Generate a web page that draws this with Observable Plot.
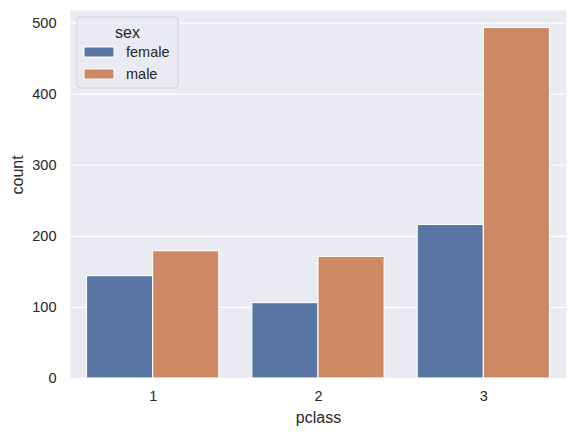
<!DOCTYPE html>
<html>
<head>
<meta charset="utf-8">
<script src="https://cdn.jsdelivr.net/npm/d3@7"></script>
<script src="https://cdn.jsdelivr.net/npm/@observablehq/plot@0.6"></script>
<style>
  html, body { margin: 0; padding: 0; background: #fff; }
  #chart { position: relative; width: 575px; height: 437px; }
</style>
</head>
<body>
<div id="chart"></div>
<script>
const pclasses = ["1", "2", "3"];
const sexes = ["female", "male"];
const femaleCounts = [144, 106, 216];
const maleCounts = [179, 171, 493];
const colors = ["#5975a4", "#cc8963"];
const yTicks = [0, 100, 200, 300, 400, 500];

const groupWidth = 0.8;
const data = [];
pclasses.forEach((p, i) => {
  sexes.forEach((s, j) => {
    const w = groupWidth / sexes.length;
    const x1 = i - groupWidth / 2 + j * w;
    data.push({pclass: p, sex: s, count: (j === 0 ? femaleCounts : maleCounts)[i], x1, x2: x1 + w});
  });
});

const font = "'Liberation Sans', Arial, sans-serif";
const ink = "#262626";
const tickFs = 14.5;

const plot = Plot.plot({
  width: 575,
  height: 437,
  marginLeft: 70,
  marginRight: 9,
  marginTop: 10,
  marginBottom: 59,
  style: {fontFamily: font, fontSize: tickFs + "px", color: ink, background: "#fff", overflow: "visible"},
  x: {type: "linear", domain: [-0.5, pclasses.length - 0.5], label: null},
  y: {domain: [0, 493 * 1.05], label: null},
  color: {domain: sexes, range: colors},
  marks: [
    Plot.frame({fill: "#eaeaf2", stroke: null}),
    Plot.gridY(yTicks, {stroke: "#fff", strokeOpacity: 1, strokeWidth: 1.25}),
    Plot.rectY(data, {x1: "x1", x2: "x2", y1: 0, y2: "count", fill: "sex", stroke: "#fff", strokeWidth: 1.1}),
    Plot.axisX({ticks: pclasses.map((_, i) => i), tickFormat: i => pclasses[i], tickSize: 0, tickPadding: 12, label: null, fontSize: tickFs, fill: ink}),
    Plot.axisY({ticks: yTicks, tickSize: 0, tickPadding: 14, label: null, fontSize: tickFs, fill: ink}),
    Plot.text(["pclass"], {frameAnchor: "bottom", dy: 44, fontSize: 16, fill: ink}),
    Plot.text(["count"], {frameAnchor: "left", dx: -53, rotate: -90, fontSize: 16, fill: ink})
  ]
});

document.getElementById("chart").appendChild(plot);

// Legend drawn inside the svg
const svg = d3.select(plot);
const lg = svg.append("g").attr("transform", "translate(77,17)").style("font-family", font);
lg.append("rect").attr("width", 101).attr("height", 71).attr("rx", 3)
  .attr("fill", "#eaeaf2").attr("fill-opacity", 0.8).attr("stroke", "#d0d0d8").attr("stroke-width", 1);
lg.append("text").attr("x", 50.5).attr("y", 15).attr("text-anchor", "middle").attr("dominant-baseline", "central")
  .attr("font-size", 16).attr("fill", ink).text("sex");
sexes.forEach((s, j) => {
  const cy = 35 + j * 22;
  lg.append("rect").attr("x", 7).attr("y", cy - 5).attr("width", 30).attr("height", 10)
    .attr("fill", colors[j]).attr("stroke", "#fff").attr("stroke-width", 1);
  lg.append("text").attr("x", 49).attr("y", cy).attr("text-anchor", "start").attr("dominant-baseline", "central")
    .attr("font-size", tickFs).attr("fill", ink).text(s);
});
</script>
</body>
</html>
